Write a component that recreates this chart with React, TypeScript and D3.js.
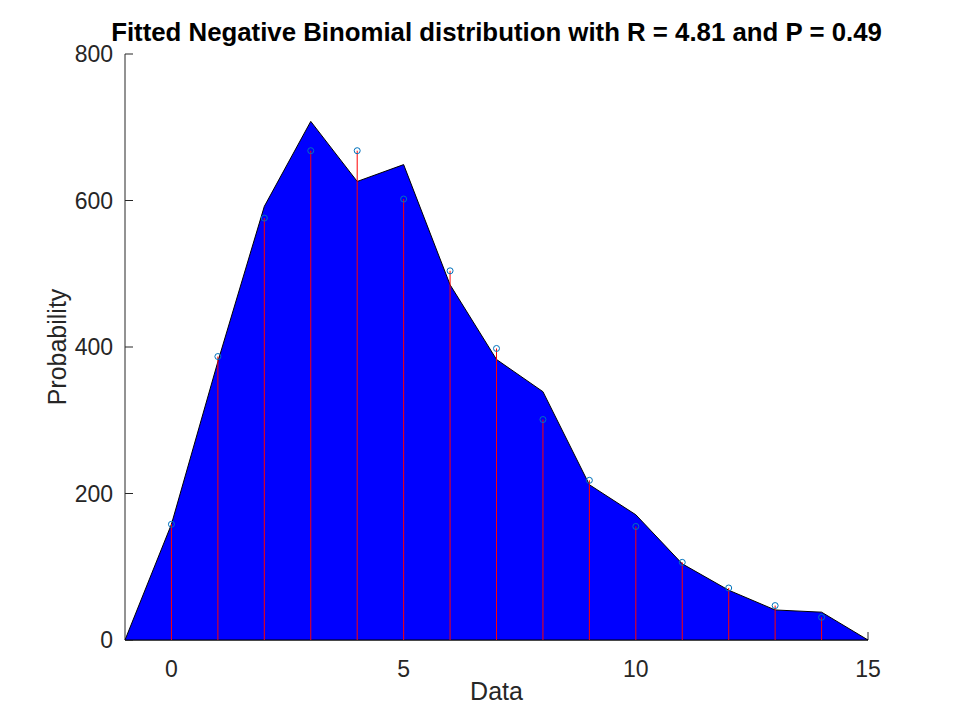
import React from "react";
import * as d3 from "d3";

const fitX: number[] = [-1, 0, 1, 2, 3, 4, 5, 6, 7, 8, 9, 10, 11, 12, 13, 14, 15];
const fitY: number[] = [0, 158, 380, 592, 708, 626, 649, 485, 383, 339, 212, 171, 104, 68, 41, 38, 0];

const dataX: number[] = [0, 1, 2, 3, 4, 5, 6, 7, 8, 9, 10, 11, 12, 13, 14];
const dataY: number[] = [158, 387, 576, 668, 668, 602, 504, 398, 301, 218, 155, 106, 71, 47, 31];

const xTicks: number[] = [0, 5, 10, 15];
const yTicks: number[] = [0, 200, 400, 600, 800];

const titleText = "Fitted Negative Binomial distribution with R = 4.81 and P = 0.49";

export default function App() {
  const W = 960;
  const H = 720;
  const left = 125;
  const right = 868;
  const top = 54;
  const bottom = 640;
  const x = d3.scaleLinear().domain([-1, 15]).range([left, right]);
  const y = d3.scaleLinear().domain([0, 800]).range([bottom, top]);
  const area = d3
    .line<number>()
    .x((_, i) => x(fitX[i]))
    .y((d) => y(d));
  const pathD = area(fitY) + "Z";
  const axisColor = "#262626";
  const font = "'Liberation Sans', Arial, Helvetica, sans-serif";
  return (
    <svg
      width={W}
      height={H}
      viewBox={`0 0 ${W} ${H}`}
      style={{ position: "absolute", left: 0, top: 0, background: "#fff" }}
    >
      <rect x={0} y={0} width={W} height={H} fill="#fff" />
      <line x1={left} y1={top} x2={left} y2={bottom} stroke={axisColor} strokeWidth={1} />
      <line x1={left} y1={bottom} x2={right} y2={bottom} stroke={axisColor} strokeWidth={1} />
      {yTicks.map((t) => (
        <g key={"y" + t}>
          <line x1={left} x2={left + 8} y1={y(t)} y2={y(t)} stroke={axisColor} strokeWidth={1} />
          <text
            x={left - 12}
            y={y(t)}
            textAnchor="end"
            dominantBaseline="central"
            fontFamily={font}
            fontSize={23}
            fill={axisColor}
          >
            {t}
          </text>
        </g>
      ))}
      {xTicks.map((t) => (
        <g key={"x" + t}>
          <line x1={x(t)} x2={x(t)} y1={bottom} y2={bottom - 8} stroke={axisColor} strokeWidth={1} />
          <text
            x={x(t)}
            y={677}
            textAnchor="middle"
            fontFamily={font}
            fontSize={23}
            fill={axisColor}
          >
            {t}
          </text>
        </g>
      ))}
      <path d={pathD} fill="#0000FF" stroke="#000" strokeWidth={1} strokeLinejoin="miter" />
      {dataX.map((d, i) => (
        <line
          key={"s" + d}
          x1={x(d)}
          x2={x(d)}
          y1={y(0)}
          y2={y(dataY[i])}
          stroke="#FF0000"
          strokeWidth={1}
        />
      ))}
      {dataX.map((d, i) => (
        <circle
          key={"c" + d}
          cx={x(d)}
          cy={y(dataY[i])}
          r={3}
          fill="none"
          stroke="#0072BD"
          strokeWidth={1}
        />
      ))}
      <text
        x={(left + right) / 2}
        y={41}
        textAnchor="middle"
        fontFamily={font}
        fontSize={25.8}
        fontWeight="bold"
        fill="#000"
      >
        {titleText}
      </text>
      <text
        x={(left + right) / 2}
        y={700}
        textAnchor="middle"
        fontFamily={font}
        fontSize={25}
        fill={axisColor}
      >
        Data
      </text>
      <text
        transform={`translate(66, ${(top + bottom) / 2}) rotate(-90)`}
        textAnchor="middle"
        fontFamily={font}
        fontSize={25}
        fill={axisColor}
      >
        Probability
      </text>
    </svg>
  );
}
